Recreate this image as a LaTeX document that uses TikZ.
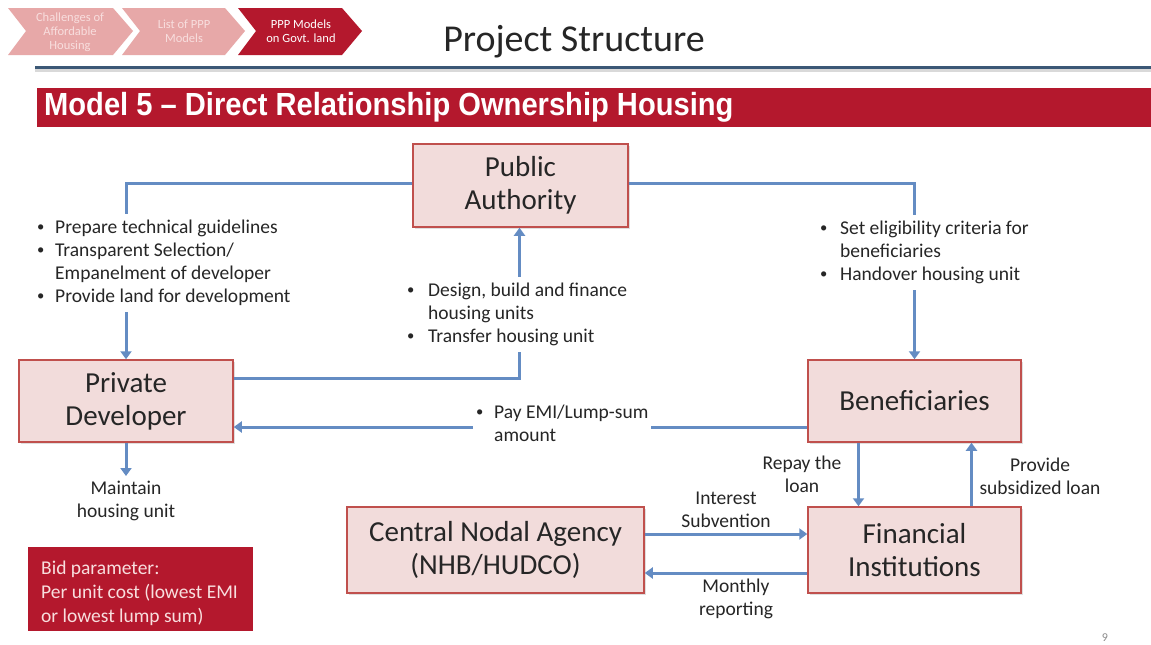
\documentclass[tikz,border=0pt]{standalone}
\usepackage{fontspec}
\usepackage{graphicx}
\setmainfont{Carlito}
\newfontfamily\bannerfont[FakeStretch=0.91]{Liberation Sans}
\usetikzlibrary{arrows.meta,shadows}
\definecolor{boxfill}{RGB}{242,220,219}
\definecolor{boxline}{RGB}{192,80,77}
\definecolor{connc}{RGB}{100,140,195}
\definecolor{bannerred}{RGB}{180,24,45}
\definecolor{chevlight}{RGB}{231,168,168}
\definecolor{chevtext}{RGB}{248,222,222}
\definecolor{rulecol}{RGB}{59,88,118}
\definecolor{txt}{RGB}{38,38,38}
\newcommand\mybul{\raisebox{0.07em}{\scalebox{0.75}{•}}}
\tikzset{
  box/.style={draw=boxline, line width=1.5pt, fill=boxfill, text=txt, align=center,
    font=\fontsize{29}{33}\selectfont, inner sep=0pt,
    drop shadow={opacity=0.25, shadow xshift=2pt, shadow yshift=-2pt}},
  conn/.style={draw=connc, line width=3pt, -{Triangle[length=8pt,width=11pt]}},
  bullets/.style={fill=white, inner sep=3pt, text=txt, align=left, anchor=north west,
    font=\fontsize{19.5}{23}\selectfont},
  lab/.style={text=txt, align=center, inner sep=1pt, font=\fontsize{19.5}{23}\selectfont},
  chev/.style={inner sep=0pt, align=center, font=\fontsize{12.5}{14}\selectfont}
}
\begin{document}
\begin{tikzpicture}[x=1pt,y=-1pt]
\useasboundingbox (0,0) rectangle (1151,645);
\fill[white] (0,0) rectangle (1151,645);
% chevrons
\fill[chevlight] (8,8) -- (113,8) -- (133,31) -- (113,55) -- (8,55) -- (26,31) -- cycle;
\fill[chevlight] (122,8) -- (225,8) -- (245,31) -- (225,55) -- (122,55) -- (140,31) -- cycle;
\fill[bannerred] (238,8) -- (342,8) -- (362,31) -- (342,55) -- (238,55) -- (256,31) -- cycle;
\node[chev, text=chevtext] (c1) at (70,32) {Challenges of\\Affordable\\Housing};
\node[chev, text=chevtext] (c2) at (184,31) {List of PPP\\Models};
\node[chev, text=white] (c3) at (301,31) {PPP Models\\on Govt. land};
% title
\node[text=txt, font=\fontsize{38}{44}\selectfont, inner sep=0pt] (title) at (574,42) {Project Structure};
\fill[black!15] (35,69) rectangle (1151,72);
\fill[rulecol] (35,66) rectangle (1151,69);
% banner
\fill[bannerred] (37,88) rectangle (1151,127);
\node[anchor=west, text=white, inner sep=0pt, font=\bannerfont\bfseries\fontsize{32}{34}\selectfont] (banner) at (44,107) {Model 5 – Direct Relationship Ownership Housing};
% boxes
\node[box, minimum width=215pt, minimum height=83pt] (pa) at (520.5,185.5) {Public\\Authority};
\node[box, minimum width=214pt, minimum height=82pt] (pd) at (126,401) {Private\\Developer};
\node[box, minimum width=213pt, minimum height=82pt] (ben) at (914.5,401) {Beneficiaries};
\node[box, minimum width=297pt, minimum height=86pt] (cna) at (495.5,550) {Central Nodal Agency\\(NHB/HUDCO)};
\node[box, minimum width=213pt, minimum height=86pt] (fi) at (914.5,550) {Financial\\Institutions};
% connectors
\draw[conn] ([yshift=2pt]pa.west) -| (pd.north);
\draw[conn] ([yshift=2pt]pa.east) -| (ben.north);
\draw[conn] ([yshift=23pt]pd.east) -| ([xshift=-1pt]pa.south);
\draw[conn] ([yshift=-26pt]ben.west) -- ([yshift=-26pt]pd.east);
\coordinate (mt) at (126,476);
\draw[conn] (pd.south) -- (mt);
\draw[conn] ([xshift=-56pt]ben.south) -- ([xshift=-56pt]fi.north);
\draw[conn] ([xshift=57pt]fi.north) -- ([xshift=57pt]ben.south);
\draw[conn] ([yshift=16pt]cna.east) -- ([yshift=16pt]fi.west);
\draw[conn] ([yshift=-23pt]fi.west) -- ([yshift=-23pt]cna.east);
% bullet texts
\node[bullets] (tl) at (34,214) {\begin{tabular}{@{}p{18pt}@{}l@{}}
\mybul&Prepare technical guidelines\\
\mybul&Transparent Selection/\\
&Empanelment of developer\\
\mybul&Provide land for development\end{tabular}};
\node[bullets] (tm) at (404,277) {\begin{tabular}{@{}p{21pt}@{}l@{}}
\mybul&Design, build and finance\\
&housing units\\
\mybul&Transfer housing unit\end{tabular}};
\node[bullets] (tr) at (817,215) {\begin{tabular}{@{}p{20pt}@{}l@{}}
\mybul&Set eligibility criteria for\\
&beneficiaries\\
\mybul&Handover housing unit\end{tabular}};
\node[bullets] (te) at (473,399) {\begin{tabular}{@{}p{18pt}@{}l@{}}
\mybul&Pay EMI/Lump-sum\\
&amount\end{tabular}};
% labels
\node[lab] (lm) at (126,501) {Maintain\\housing unit};
\node[lab] (lr) at (802,474) {Repay the\\loan};
\node[lab] (lp) at (1040,476.5) {Provide\\subsidized loan};
\node[lab] (li) at (726,510) {Interest\\Subvention};
\node[lab] (lmr) at (736,599) {Monthly\\reporting};
% bid box
\fill[bannerred] (28,547) rectangle (253,631);
\node[anchor=west, text=chevtext, align=left, inner sep=0pt, font=\fontsize{19.5}{24}\selectfont] (bid) at (41,593) {Bid parameter:\\Per unit cost (lowest EMI\\or lowest lump sum)};
\node[text=black!45, font=\fontsize{12}{14}\selectfont, inner sep=0pt] (pg) at (1105,638) {9};
\end{tikzpicture}
\end{document}
